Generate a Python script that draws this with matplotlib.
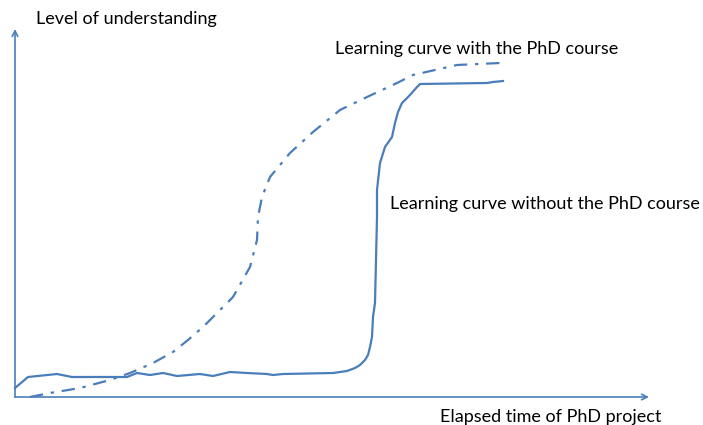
import matplotlib
matplotlib.use('Agg')
import matplotlib.pyplot as plt
import numpy as np

# Curves (time since start, level of understanding)
with_x = [15, 35, 65, 95, 115, 138, 158, 173, 188, 218, 235, 242, 243, 247, 255, 275, 298, 325, 352, 382, 398, 442, 485]
with_y = [0, 4, 9, 17, 24, 34, 45, 57, 70, 100, 130, 157, 180, 200, 220, 244, 265, 287, 300, 314, 322, 332, 334]

without_x = [0, 13, 42, 57, 112, 122, 135, 148, 162, 185, 198, 215, 232, 252, 258, 268, 318, 332, 340, 345, 350, 353, 355, 357, 358, 360, 362, 362, 365, 370, 377, 380, 383, 387, 395, 402, 405, 472, 478, 488]
without_y = [9, 20, 23, 20, 20, 24, 22, 24, 21, 23, 21, 25, 24, 23, 22, 23, 24, 26, 29, 32, 37, 42, 50, 60, 80, 94, 180, 207, 234, 250, 260, 274, 285, 294, 302, 310, 313, 314, 315, 316]

color = '#4a7ebb'
font = ['Lato', 'DejaVu Sans']

fig = plt.figure(figsize=(7.03, 4.25), dpi=100)
ax = fig.add_axes([0, 0, 1, 1])
ax.set_xlim(-15, 688)
ax.set_ylim(-28, 397)
ax.axis('off')

# axes with arrows
ax.annotate('', xy=(0, 368), xytext=(0, 0),
            arrowprops=dict(arrowstyle='->', color=color, lw=1.2, shrinkA=0, shrinkB=0))
ax.annotate('', xy=(634, 0), xytext=(0, 0),
            arrowprops=dict(arrowstyle='->', color=color, lw=1.2, shrinkA=0, shrinkB=0))

ax.plot(with_x, with_y, color=color, lw=1.6, dashes=(6, 3.5, 1.5, 3.5))
ax.plot(without_x, without_y, color=color, lw=1.6)

ax.text(21, 378, 'Level of understanding', fontsize=13, family=font, va='center')
ax.text(320, 348, 'Learning curve with the PhD course', fontsize=13, family=font, va='center')
ax.text(375, 193, 'Learning curve without the PhD course', fontsize=13, family=font, va='center')
ax.text(425, -20, 'Elapsed time of PhD project', fontsize=13, family=font, va='center')

fig.savefig('out.png', dpi=100)
